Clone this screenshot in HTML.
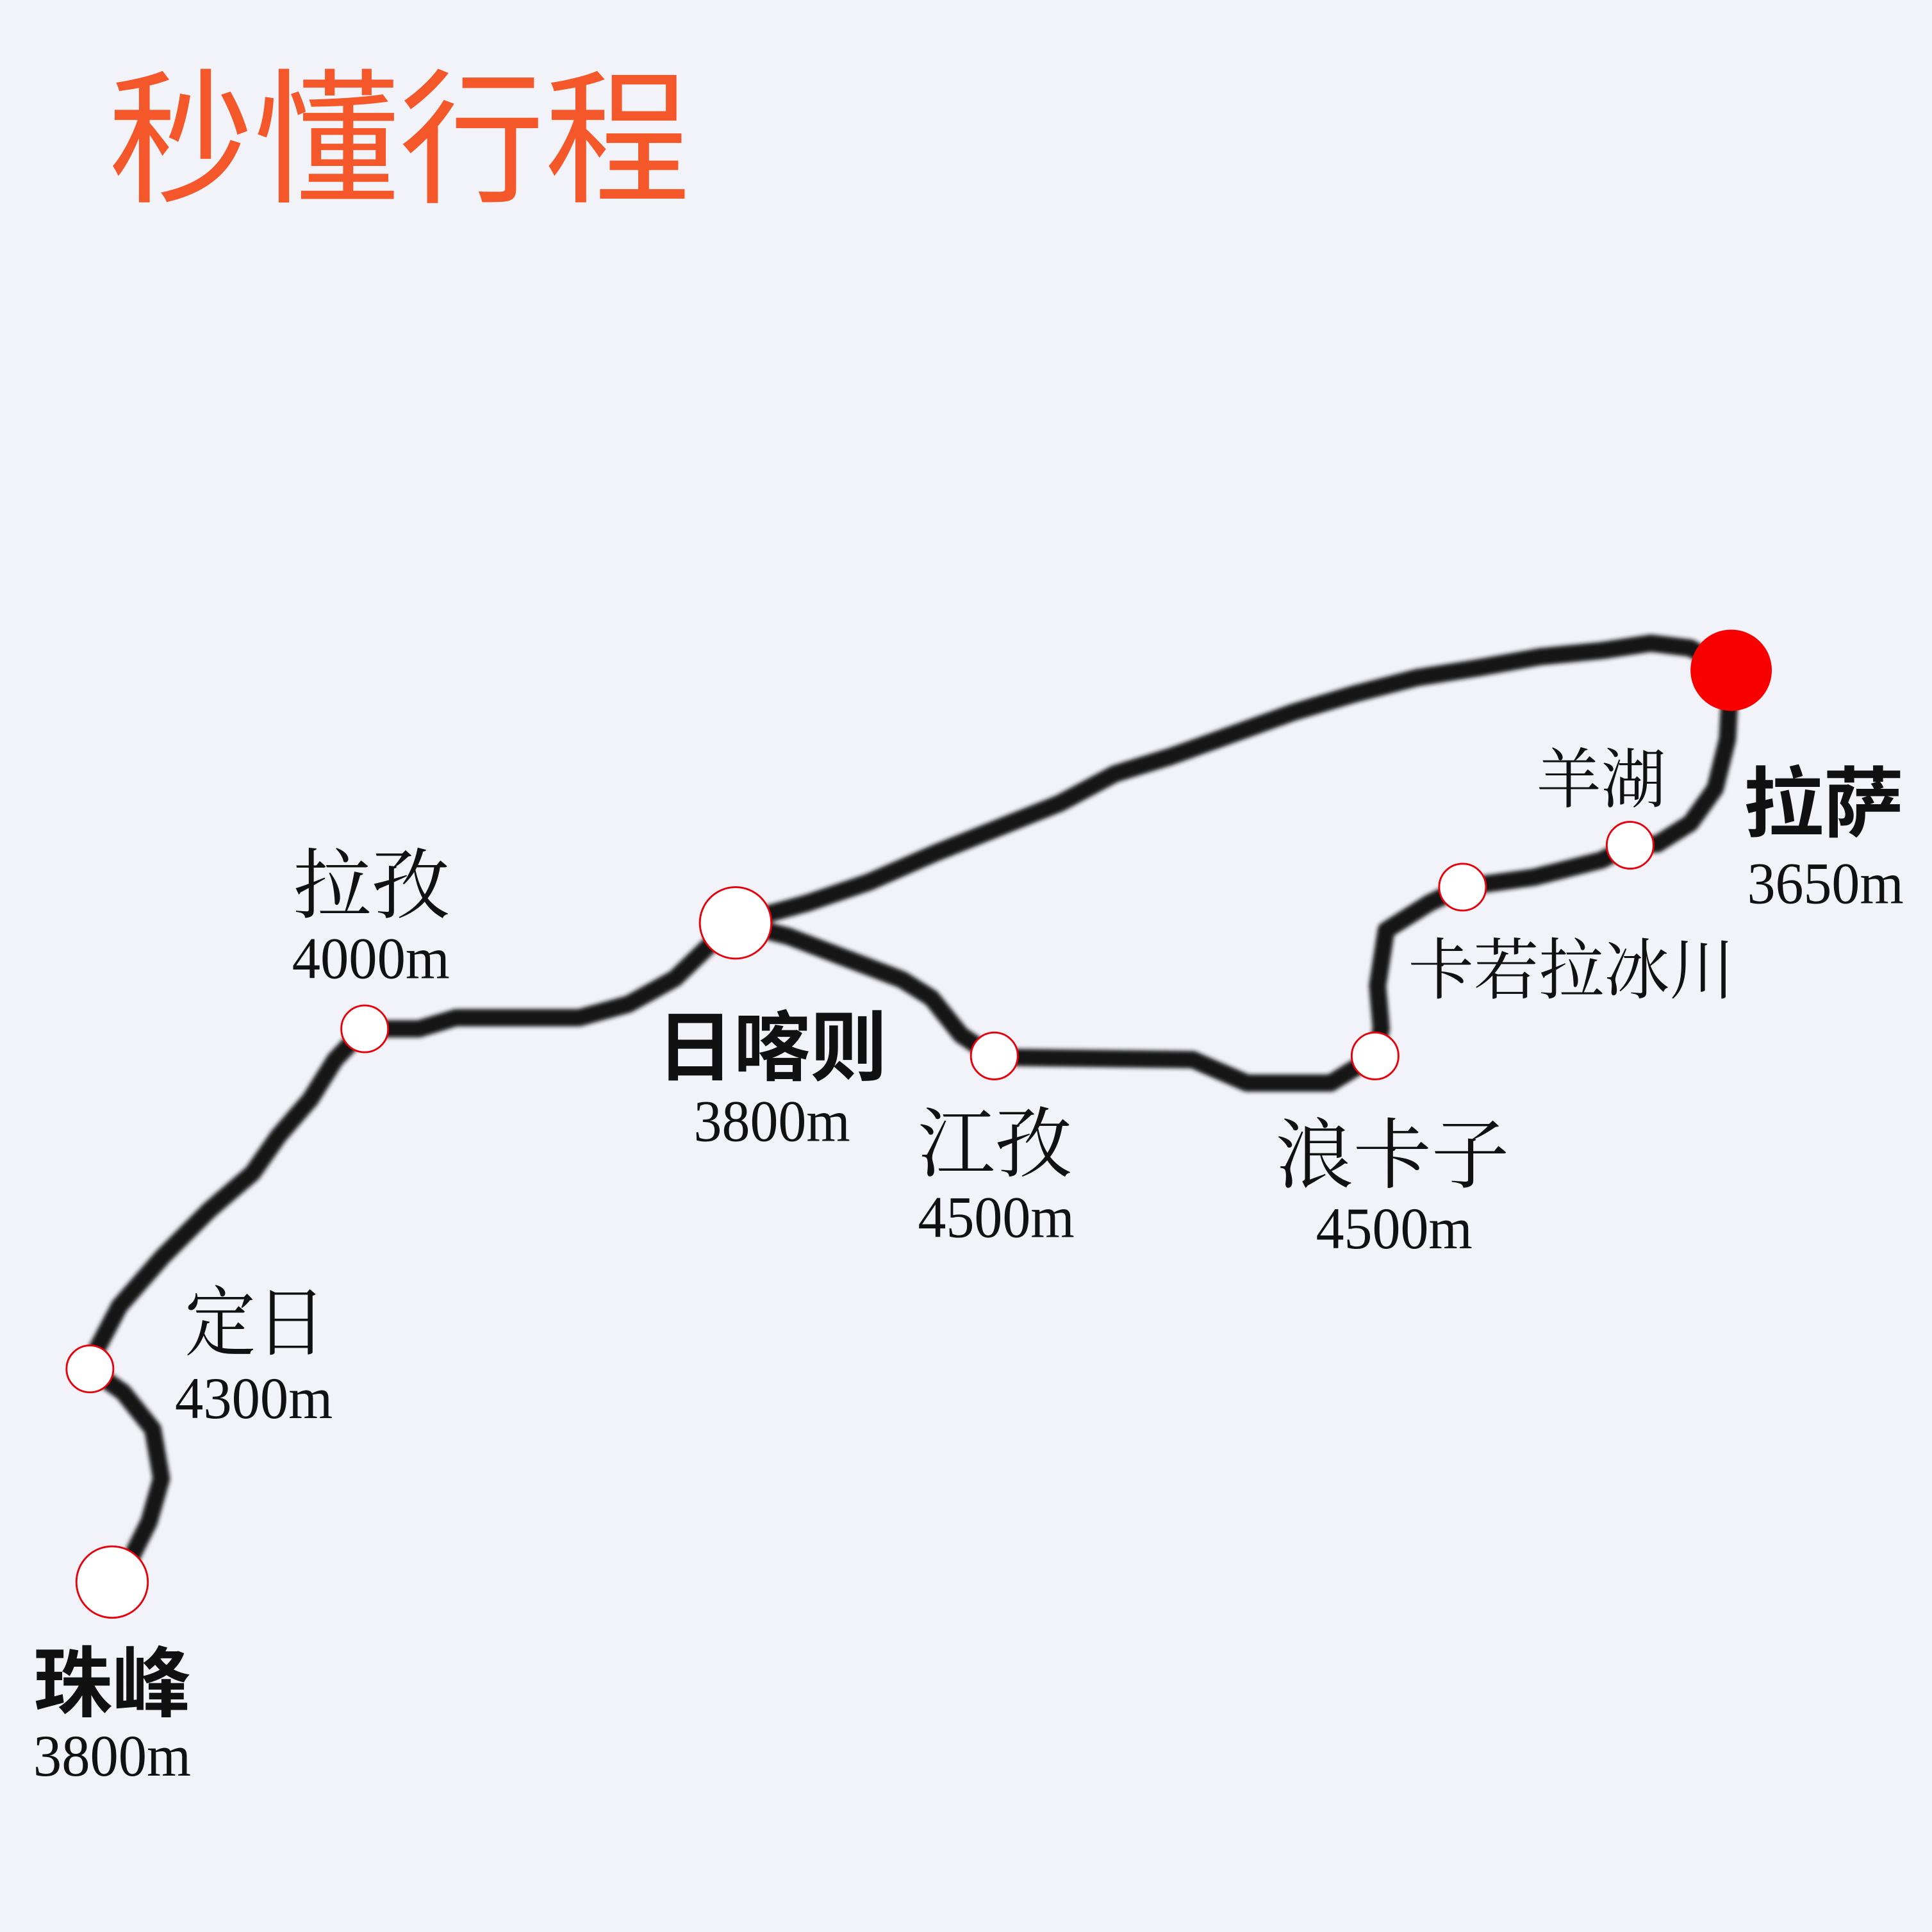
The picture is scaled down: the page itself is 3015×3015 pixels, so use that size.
<!DOCTYPE html>
<html><head><meta charset="utf-8">
<style>
html,body{margin:0;padding:0;background:#f2f3f9;}
svg{display:block;}
.t{font-family:"Liberation Serif","Noto Serif CJK SC",serif;fill:#111;}
.b{font-family:"Liberation Sans","Noto Sans CJK SC",sans-serif;font-weight:bold;fill:#111;}
.n{font-family:"Liberation Serif",serif;fill:#111;}
</style></head>
<body>
<svg width="3015" height="3015" viewBox="0 0 1568 1568" xmlns="http://www.w3.org/2000/svg">
<defs><filter id="bl" x="-5%" y="-5%" width="110%" height="110%"><feGaussianBlur stdDeviation="1.6"/></filter></defs>
<rect width="1568" height="1568" fill="#f2f3f9"/>
<text x="88" y="155" font-family="Liberation Sans,'Noto Sans CJK SC',sans-serif" font-size="118" fill="#f4582a" textLength="472" lengthAdjust="spacingAndGlyphs">秒懂行程</text>
<g fill="none" stroke="#151515" stroke-width="14" stroke-linejoin="round" stroke-linecap="round" filter="url(#bl)">
<path d="M1405,544 L1372,526 L1340,522 L1300,528 L1250,533 L1200,542 L1150,550 L1100,563 L1050,578 L1000,596 L950,614 L905,628 L860,652 L810,672 L760,692 L705,716 L655,733 L597,749"/>
<path d="M1405,544 L1402,600 L1392,640 L1372,668 L1345,685 L1323,686 L1300,698 L1245,712 L1187,720 L1160,733 L1125,755 L1118,800 L1121,835 L1116,857"/>
<path d="M1116,857 L1080,879 L1012,879 L968,860 L807,858"/>
<path d="M807,858 L780,840 L756,810 L732,795 L682,776 L640,760 L597,749"/>
<path d="M597,749 L575,768 L548,794 L510,815 L470,826 L370,826 L340,835 L296,835"/>
<path d="M296,835 L272,860 L252,892 L226,922 L205,952 L170,982 L132,1020 L97,1060 L77,1098 L73,1111"/>
<path d="M73,1111 L100,1130 L124,1160 L131,1200 L121,1235 L106,1265 L91,1284"/>
</g>
<g fill="#fff" stroke="#e8000a" stroke-width="1.5">
<circle cx="597" cy="749" r="29"/>
<circle cx="91" cy="1284" r="29"/>
<circle cx="296" cy="835" r="19"/>
<circle cx="73" cy="1111" r="19"/>
<circle cx="807" cy="857" r="19"/>
<circle cx="1116" cy="857" r="19"/>
<circle cx="1187" cy="720" r="19"/>
<circle cx="1323" cy="686" r="19"/>
</g>
<circle cx="1405" cy="544" r="33" fill="#f80000"/>

<text class="t" x="238" y="740" font-size="62" textLength="127" lengthAdjust="spacingAndGlyphs">拉孜</text>
<text class="n" x="237" y="794" font-size="48" textLength="128" lengthAdjust="spacingAndGlyphs">4000m</text>

<text class="b" x="533" y="872" font-size="62" textLength="187" lengthAdjust="spacingAndGlyphs">日喀则</text>
<text class="n" x="563" y="926" font-size="48" textLength="127" lengthAdjust="spacingAndGlyphs">3800m</text>

<text class="t" x="745" y="950" font-size="62" textLength="125" lengthAdjust="spacingAndGlyphs">江孜</text>
<text class="n" x="745" y="1004" font-size="48" textLength="127" lengthAdjust="spacingAndGlyphs">4500m</text>

<text class="t" x="1035" y="959" font-size="62" textLength="190" lengthAdjust="spacingAndGlyphs">浪卡子</text>
<text class="n" x="1068" y="1013" font-size="48" textLength="127" lengthAdjust="spacingAndGlyphs">4500m</text>

<text class="t" x="1143" y="806" font-size="54" textLength="265" lengthAdjust="spacingAndGlyphs">卡若拉冰川</text>
<text class="t" x="1247" y="651" font-size="53" textLength="105" lengthAdjust="spacingAndGlyphs">羊湖</text>

<text class="b" x="1415" y="674" font-size="62" textLength="130" lengthAdjust="spacingAndGlyphs">拉萨</text>
<text class="n" x="1418" y="733" font-size="48" textLength="127" lengthAdjust="spacingAndGlyphs">3650m</text>

<text class="t" x="150" y="1095" font-size="62" textLength="115" lengthAdjust="spacingAndGlyphs">定日</text>
<text class="n" x="142" y="1151" font-size="48" textLength="128" lengthAdjust="spacingAndGlyphs">4300m</text>

<text class="b" x="27" y="1388" font-size="62" textLength="128" lengthAdjust="spacingAndGlyphs">珠峰</text>
<text class="n" x="27" y="1441" font-size="48" textLength="128" lengthAdjust="spacingAndGlyphs">3800m</text>
</svg>
</body></html>
